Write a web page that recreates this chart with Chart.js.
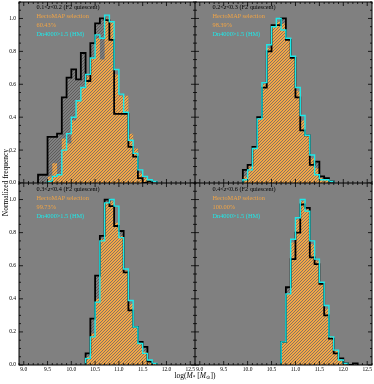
<!DOCTYPE html>
<html lang="en">
<head>
<meta charset="UTF-8">
<title>Stellar mass distributions</title>
<style>
    body {
        margin: 0;
        padding: 0;
        background: #fff;
        font-family: "Liberation Serif", "DejaVu Serif", serif;
    }
    #wrap {
        position: relative;
        width: 374px;
        height: 384px;
        overflow: hidden;
    }
    canvas { position: absolute; }
    .note {
        position: absolute;
        font-size: 6.3px;
        line-height: 9px;
        white-space: nowrap;
        z-index: 5;
    }
    .black { color: #000; }
    .orange { color: #f2a444; }
    .cyan { color: #1de9e9; }
    #xtitle {
        position: absolute;
        left: 145px;
        width: 100px;
        top: 371px;
        text-align: center;
        font-size: 7.5px;
        z-index: 5;
    }
    #ytitle {
        position: absolute;
        left: -45px;
        top: 178px;
        width: 100px;
        text-align: center;
        font-size: 7.5px;
        transform: rotate(-90deg);
        z-index: 5;
    }
    sub { font-size: 70%; vertical-align: -1px; line-height: 0; }
</style>
<script src="https://cdn.jsdelivr.net/npm/chart.js"></script>
</head>
<body>
<div id="wrap">
    <canvas id="c0" width="196" height="190" style="left:0;top:0"></canvas>
    <canvas id="c1" width="179" height="190" style="left:195px;top:0"></canvas>
    <canvas id="c2" width="196" height="201" style="left:0;top:183px"></canvas>
    <canvas id="c3" width="179" height="201" style="left:195px;top:183px"></canvas>
    <div id="xtitle">log(<i>M</i><sub>*</sub> [<i>M</i><sub>⊙</sub>])</div>
    <div id="ytitle">Normalized frequency</div>
</div>

<script>
    // bin edges of the log stellar mass histograms (0.1 dex bins)
    const binEdges = [9.3, 9.4, 9.5, 9.6, 9.7, 9.8, 9.9, 10.0, 10.1, 10.2, 10.3, 10.4, 10.5, 10.6, 10.7,
                      10.8, 10.9, 11.0, 11.1, 11.2, 11.3, 11.4, 11.5, 11.6, 11.7, 11.8, 11.9, 12.0, 12.1, 12.2, 12.3];

    const xTicks = [9.0, 9.5, 10.0, 10.5, 11.0, 11.5, 12.0, 12.5];
    const yTicks = [0.0, 0.2, 0.4, 0.6, 0.8, 1.0];

    const zLabels = ['0.1<z<0.2', '0.2<z<0.3', '0.3<z<0.4', '0.4<z<0.6'];
    const fractions = ['60.43%', '98.39%', '99.73%', '100.00%'];

    // 0.1<z<0.2
    const f2Low = [0.05, 0.05, 0.28, 0.28, 0.30, 0.52, 0.64, 0.69, 0.63, 0.79, 0.62, 0.85, 0.97, 1.00, 0.99,
                   0.87, 0.42, 0.42, 0.42, 0.22, 0.16, 0.03, 0.00, 0.01, 0, 0, 0, 0, 0, 0];
    const hmLow = [0, 0, 0.04, 0.12, 0.05, 0.27, 0.24, 0.38, 0.50, 0.58, 0.65, 0.76, 0.88, 0.75, 1.00,
                   0.98, 0.66, 0.53, 0.53, 0.30, 0.21, 0.06, 0.03, 0.02, 0, 0, 0, 0, 0, 0];
    const dnLow = [0, 0, 0.01, 0.04, 0.05, 0.20, 0.30, 0.40, 0.50, 0.58, 0.66, 0.76, 0.90, 0.88, 1.02,
                   0.98, 0.69, 0.54, 0.43, 0.26, 0.18, 0.08, 0.04, 0.02, 0.01, 0, 0, 0, 0, 0];

    // 0.2<z<0.3
    const f2Mid = [0, 0, 0, 0, 0, 0, 0.08, 0.11, 0.22, 0.40, 0.58, 0.80, 0.96, 0.96, 1.00,
                   0.87, 0.76, 0.52, 0.32, 0.29, 0.11, 0.13, 0.04, 0.03, 0.01, 0, 0, 0, 0, 0];
    const hmMid = [0, 0, 0, 0, 0, 0, 0.04, 0.10, 0.21, 0.39, 0.60, 0.82, 0.95, 0.98, 0.97,
                   0.88, 0.77, 0.56, 0.38, 0.29, 0.15, 0.09, 0.03, 0.02, 0, 0, 0, 0, 0, 0];
    const dnMid = [0, 0, 0, 0, 0, 0, 0.02, 0.08, 0.21, 0.39, 0.61, 0.84, 0.95, 1.00, 0.93,
                   0.88, 0.77, 0.58, 0.41, 0.29, 0.17, 0.05, 0.02, 0.02, 0.01, 0, 0, 0, 0, 0];

    // 0.3<z<0.4
    const f2High = [0, 0, 0, 0, 0, 0, 0, 0, 0, 0, 0.07, 0.28, 0.54, 0.78, 1.00,
                    0.96, 0.84, 0.81, 0.56, 0.33, 0.23, 0.14, 0.11, 0.02, 0, 0, 0, 0, 0, 0];
    const hmHigh = [0, 0, 0, 0, 0, 0, 0, 0, 0, 0, 0.05, 0.19, 0.40, 0.76, 0.98,
                    0.99, 0.86, 0.78, 0.57, 0.37, 0.23, 0.13, 0.08, 0.03, 0.01, 0, 0, 0, 0, 0];
    const dnHigh = [0, 0, 0, 0, 0, 0, 0, 0, 0, 0, 0.04, 0.17, 0.38, 0.75, 0.98,
                    1.00, 0.96, 0.77, 0.58, 0.39, 0.23, 0.13, 0.07, 0.03, 0.01, 0, 0, 0, 0, 0];

    // 0.4<z<0.6
    const f2Top = [0, 0, 0, 0, 0, 0, 0, 0, 0, 0, 0, 0, 0, 0, 0.14,
                   0.47, 0.64, 0.80, 0.97, 0.95, 0.65, 0.61, 0.49, 0.30, 0.16, 0.07, 0.04, 0.01, 0.00, 0.01];
    const hmTop = [0, 0, 0, 0, 0, 0, 0, 0, 0, 0, 0, 0, 0, 0, 0.14,
                   0.43, 0.74, 0.88, 0.99, 0.94, 0.73, 0.63, 0.50, 0.34, 0.17, 0.09, 0.03, 0.01, 0, 0];
    const dnTop = [0, 0, 0, 0, 0, 0, 0, 0, 0, 0, 0, 0, 0, 0, 0.14,
                   0.43, 0.76, 0.89, 1.00, 0.93, 0.75, 0.64, 0.50, 0.36, 0.17, 0.09, 0.03, 0.01, 0, 0];

    const f2Sets = [f2Low, f2Mid, f2High, f2Top];
    const hmSets = [hmLow, hmMid, hmHigh, hmTop];
    const dnSets = [dnLow, dnMid, dnHigh, dnTop];

    const FONT = '"Liberation Serif", "DejaVu Serif", serif';

    // small diagonal hatch tile
    function hatch(base, stripe, period) {
        const c = document.createElement('canvas');
        c.width = period;
        c.height = period;
        const g = c.getContext('2d');
        if (base) {
            g.fillStyle = base;
            g.fillRect(0, 0, period, period);
        }
        g.fillStyle = stripe;
        for (let i = 0; i < period; i++) g.fillRect(period - 1 - i, i, 1, 1);
        return g.createPattern(c, 'repeat');
    }

    // step outline: points on left bin edges, closed down to zero at both ends
    function histPoints(vals) {
        const a = vals.findIndex(v => v > 0);
        let b = vals.length - 1;
        while (b > a && vals[b] === 0) b--;
        const pts = [{x: binEdges[a], y: 0}];
        for (let k = a; k <= b; k++) pts.push({x: binEdges[k], y: vals[k]});
        pts.push({x: binEdges[b + 1], y: 0});
        return pts;
    }

    const panelBg = {
        id: 'panelBg',
        beforeDraw(chart) {
            const a = chart.chartArea;
            const ctx = chart.ctx;
            ctx.save();
            ctx.fillStyle = '#808080';
            ctx.fillRect(a.left, a.top, a.right - a.left, a.bottom - a.top);
            ctx.restore();
        }
    };

    // inward ticks on all four sides plus the frame
    const frameTicks = {
        id: 'frameTicks',
        afterDatasetsDraw(chart) {
            const {ctx, chartArea: a, scales: {x, y}} = chart;
            ctx.save();
            ctx.strokeStyle = '#000';
            ctx.lineWidth = 0.8;
            ctx.beginPath();
            for (let i = 89; i <= 126; i++) {
                const px = x.getPixelForValue(i / 10);
                const len = i % 5 === 0 ? 4 : 2;
                ctx.moveTo(px, a.bottom); ctx.lineTo(px, a.bottom - len);
                ctx.moveTo(px, a.top); ctx.lineTo(px, a.top + len);
            }
            for (let j = 0; j <= 22; j++) {
                const py = y.getPixelForValue(j / 20);
                const len = j % 4 === 0 ? 4 : 2;
                ctx.moveTo(a.left, py); ctx.lineTo(a.left + len, py);
                ctx.moveTo(a.right, py); ctx.lineTo(a.right - len, py);
            }
            ctx.stroke();
            ctx.lineWidth = 1;
            ctx.strokeRect(a.left, a.top, a.right - a.left, a.bottom - a.top);
            ctx.restore();
        }
    };

    const layouts = [
        {left: true, bottom: false, pad: {top: 2, bottom: 7, left: 0, right: 1}},
        {left: false, bottom: false, pad: {top: 2, bottom: 7, left: 0, right: 2}},
        {left: true, bottom: true, pad: {top: 0, bottom: 0, left: 0, right: 1}},
        {left: false, bottom: true, pad: {top: 0, bottom: 0, left: 0, right: 2}}
    ];

    const orangeFill = hatch('#f4a646', '#857462', 3);
    const greyHatch = hatch(null, '#5c5c5c', 3);
    const noPad = s => { s.paddingTop = 0; s.paddingBottom = 0; s.paddingLeft = 0; s.paddingRight = 0; };

    layouts.forEach((lay, i) => {
        new Chart(document.getElementById('c' + i), {
            type: 'line',
            data: {
                datasets: [
                    {data: histPoints(dnSets[i]), borderColor: '#1de9e9', borderWidth: 1.4, fill: false, order: 0},
                    {data: histPoints(f2Sets[i]), borderColor: '#000', borderWidth: 1.8, fill: false, order: 1},
                    {data: histPoints(hmSets[i]), borderWidth: 0, borderColor: 'rgba(0,0,0,0)',
                     backgroundColor: orangeFill, fill: 'origin', order: 2},
                    {data: histPoints(f2Sets[i]), borderWidth: 0, borderColor: 'rgba(0,0,0,0)',
                     backgroundColor: greyHatch, fill: 'origin', order: 3}
                ]
            },
            options: {
                responsive: false,
                animation: false,
                events: [],
                layout: {padding: lay.pad},
                elements: {
                    point: {radius: 0},
                    line: {stepped: 'before', tension: 0, borderJoinStyle: 'miter'}
                },
                plugins: {
                    legend: {display: false},
                    tooltip: {enabled: false}
                },
                scales: {
                    x: {
                        type: 'linear',
                        min: 8.9,
                        max: 12.6,
                        display: lay.bottom,
                        grid: {display: false, drawTicks: false},
                        border: {display: false},
                        afterBuildTicks: s => { s.ticks = xTicks.map(v => ({value: v})); },
                        afterFit: s => { noPad(s); s.height = lay.bottom ? 19 : 0; },
                        ticks: {
                            autoSkip: false,
                            maxRotation: 0,
                            padding: 1,
                            color: '#000',
                            font: {family: FONT, size: 5.5},
                            callback: v => v.toFixed(1)
                        }
                    },
                    y: {
                        type: 'linear',
                        min: 0,
                        max: 1.1,
                        display: lay.left,
                        grid: {display: false, drawTicks: false},
                        border: {display: false},
                        afterBuildTicks: s => { s.ticks = yTicks.map(v => ({value: v})); },
                        afterFit: s => { noPad(s); s.width = lay.left ? 19 : 0; },
                        ticks: {
                            autoSkip: false,
                            padding: 3,
                            color: '#000',
                            font: {family: FONT, size: 5.5},
                            callback: v => v.toFixed(1)
                        }
                    }
                }
            },
            plugins: [panelBg, frameTicks]
        });

        // panel annotation block, placed at 10% of the panel width
        const wrap = document.getElementById('wrap');
        const note = document.createElement('div');
        note.className = 'note';
        note.style.left = (i % 2 === 0 ? 36.5 : 212.5) + 'px';
        note.style.top = (i < 2 ? 2 : 184) + 'px';
        const z = zLabels[i].replace('z', '<i>z</i>');
        note.innerHTML =
            '<div class="black">' + z + ' (F2 quiescent)</div>' +
            '<div class="orange">HectoMAP selection</div>' +
            '<div class="orange">' + fractions[i] + '</div>' +
            '<div class="cyan">Dn4000&gt;1.5 (HM)</div>';
        wrap.appendChild(note);
    });
</script>
</body>
</html>
